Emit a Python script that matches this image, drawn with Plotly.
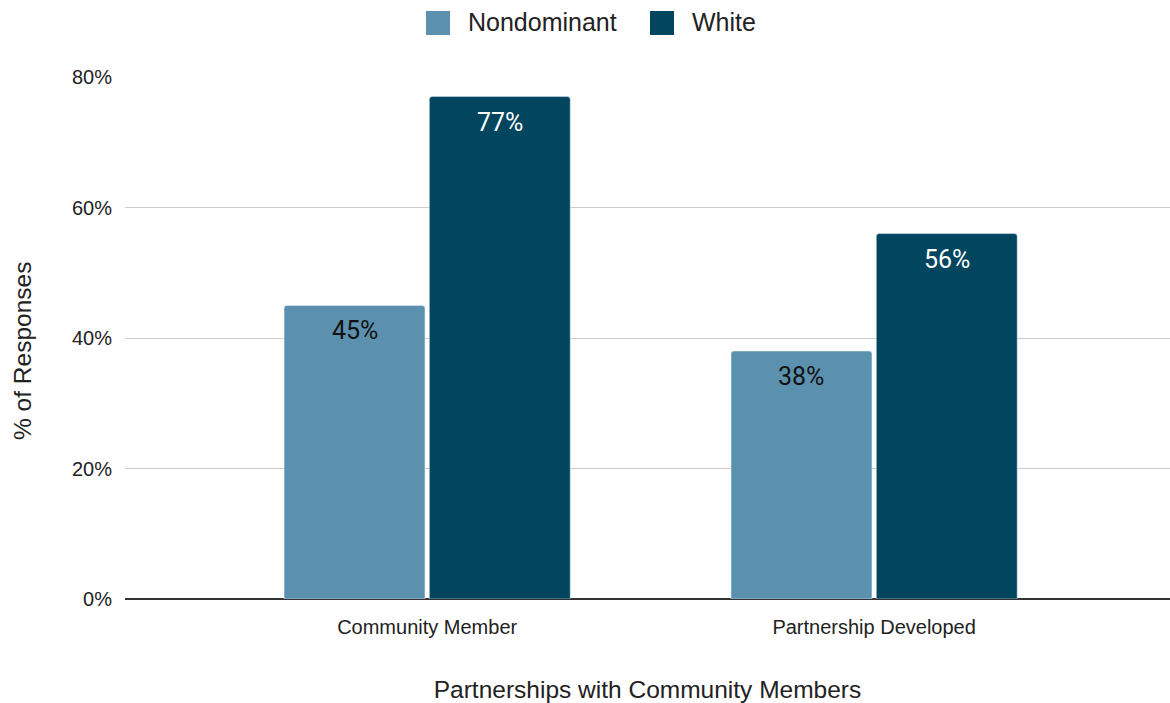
import plotly.graph_objects as go

categories = ["Community Member", "Partnership Developed"]
nondominant = [0.45, 0.38]
white = [0.77, 0.56]
y_ticks = [0, 0.2, 0.4, 0.6, 0.8]
y_tick_labels = ["0%", "20%", "40%", "60%", "80%"]

C_NONDOM = "#5b91ae"
C_WHITE = "#01455f"
AXIS_FONT = "Liberation Sans, Arial, sans-serif"
LABEL_FONT = "Roboto, Liberation Sans, sans-serif"
TEXT_COLOR = "#222222"

fig = go.Figure()
fig.add_trace(go.Bar(name="Nondominant", x=categories, y=nondominant,
                     marker=dict(color=C_NONDOM, cornerradius=3), showlegend=False))
fig.add_trace(go.Bar(name="White", x=categories, y=white,
                     marker=dict(color=C_WHITE, cornerradius=3), showlegend=False))

# value labels just inside the top of each bar
half = 0.1625
for i, v in enumerate(nondominant):
    fig.add_annotation(x=i - half, y=v, text=f"{round(v * 100)}%", showarrow=False,
                       yanchor="top", yshift=-9,
                       font=dict(family=LABEL_FONT, size=25, color="#111111"))
for i, v in enumerate(white):
    fig.add_annotation(x=i + half, y=v, text=f"{round(v * 100)}%", showarrow=False,
                       yanchor="top", yshift=-9,
                       font=dict(family=LABEL_FONT, size=25, color="#ffffff"))

# pixel helpers for placing items outside the plot area
plot_left, plot_w = 125, 1045
plot_bottom, plot_h = 599, 522


def px_x(px):
    return (px - plot_left) / plot_w


def px_y(py):
    return (plot_bottom - py) / plot_h


# legend row above the plot: square swatches + series names
legend_items = [("Nondominant", C_NONDOM, 426), ("White", C_WHITE, 650)]
for name, color, left in legend_items:
    fig.add_shape(type="rect", xref="paper", yref="paper",
                  x0=px_x(left), x1=px_x(left + 24), y0=px_y(35), y1=px_y(11),
                  fillcolor=color, line=dict(width=0))
    fig.add_annotation(xref="paper", yref="paper", x=px_x(left + 40), y=px_y(22),
                       text=name, showarrow=False, xanchor="left", yanchor="middle",
                       font=dict(family=AXIS_FONT, size=25, color=TEXT_COLOR))

# y-axis title
fig.add_annotation(xref="paper", yref="paper", x=px_x(22), y=px_y(351),
                   text="% of Responses", showarrow=False, textangle=-90,
                   xanchor="center", yanchor="middle",
                   font=dict(family=AXIS_FONT, size=24.5, color=TEXT_COLOR))

fig.update_layout(
    width=1170, height=703,
    margin=dict(l=125, r=0, t=77, b=104),
    paper_bgcolor="white", plot_bgcolor="white",
    barmode="group", bargap=0.35, bargroupgap=0.03,
    font=dict(family=AXIS_FONT, color=TEXT_COLOR),
    showlegend=False,
    xaxis=dict(range=[-0.676, 1.662], showgrid=False, showline=False,
               ticks="", ticklabelstandoff=14,
               tickfont=dict(family=AXIS_FONT, size=20, color=TEXT_COLOR),
               title=dict(text="Partnerships with Community Members", standoff=43,
                          font=dict(family=AXIS_FONT, size=24.5, color=TEXT_COLOR))),
    yaxis=dict(range=[0, 0.8], tickvals=y_ticks, ticktext=y_tick_labels,
               showgrid=True, gridcolor="#cccccc", gridwidth=1.3,
               zeroline=True, zerolinecolor="#333333", zerolinewidth=1.8,
               ticks="", ticklabelstandoff=12,
               tickfont=dict(family=AXIS_FONT, size=20, color=TEXT_COLOR)),
)

fig.write_html("out.html")
